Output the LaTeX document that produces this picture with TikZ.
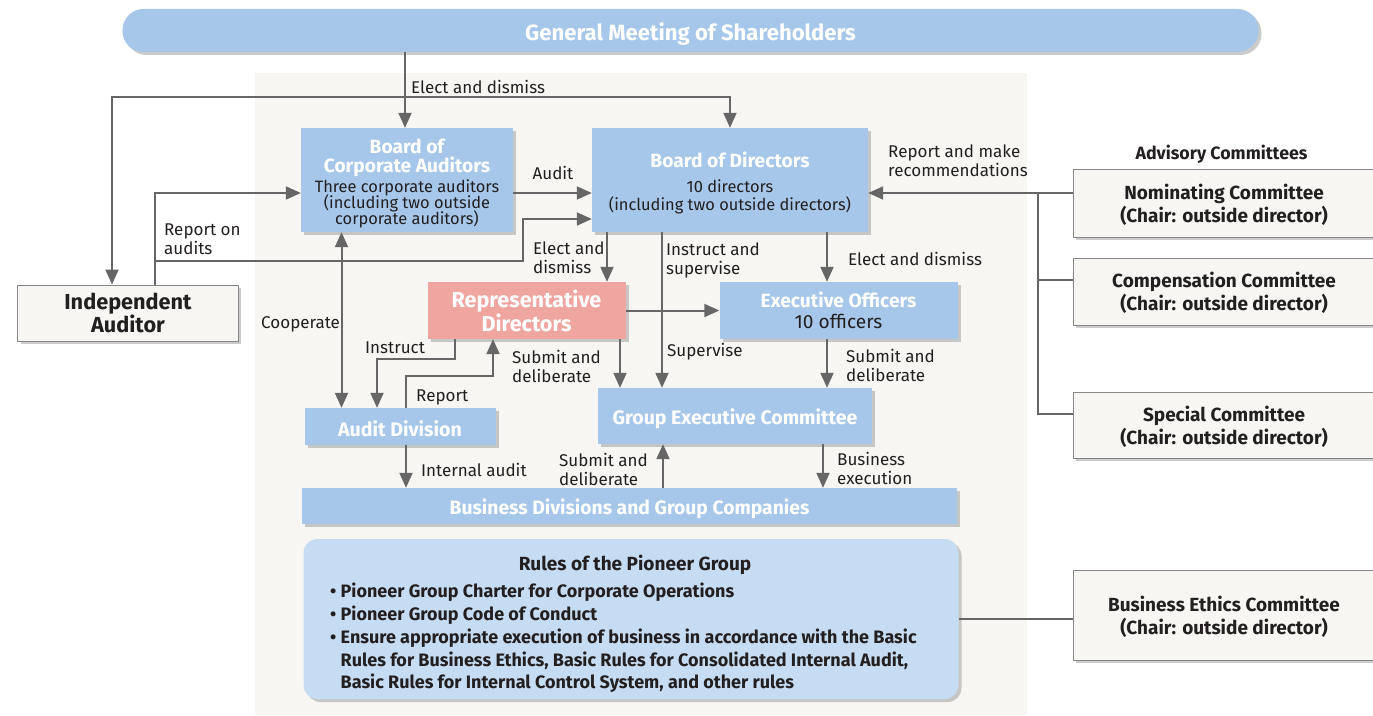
\documentclass[tikz,border=0pt]{standalone}
\usepackage{fontspec}
\setmainfont{Fira Sans}
\usetikzlibrary{arrows.meta,shadows}
\definecolor{boxblue}{RGB}{166,199,234}
\definecolor{ruleblue}{RGB}{198,220,242}
\definecolor{reppink}{RGB}{240,166,160}
\definecolor{panelgray}{RGB}{247,246,242}
\definecolor{linegray}{RGB}{102,102,102}
\definecolor{inkdark}{RGB}{35,31,32}
\definecolor{framegray}{RGB}{135,135,135}
\tikzset{
  conn/.style={draw=linegray, line width=2bp},
  arr/.style={conn, -{Triangle[width=13bp,length=15bp]}},
  arrboth/.style={conn, {Triangle[width=13bp,length=15bp]}-{Triangle[width=13bp,length=15bp]}},
  boxshadow/.style={drop shadow={shadow xshift=3bp, shadow yshift=-3bp, fill=black!45, opacity=0.45}},
  orgbox/.style={fill=boxblue, text=white, inner sep=0pt, align=center, boxshadow},
  cmtbox/.style={draw=framegray, line width=1bp, fill=panelgray, text=inkdark, inner sep=0pt, align=center, boxshadow,
    text depth=0pt, font=\bfseries\fontsize{19bp}{23bp}\selectfont},
  lbl/.style={text=inkdark, inner sep=0pt, align=left, font=\fontsize{17bp}{19bp}\selectfont},
}
\newcommand\ttl[1]{{\fontsize{19.2bp}{19bp}\selectfont\bfseries\color{white}#1}}
\newcommand\tallstrut[1]{\rule{0pt}{#1}}
\newcommand\tightlines{\lineskiplimit-40bp\relax}
\begin{document}
\begin{tikzpicture}[x=1bp, y=-1bp]
\useasboundingbox (0,0) rectangle (1373,715);
% panel behind the group
\fill[panelgray] (255,73) rectangle (1027,715);
%%
\node (gm) at (690.5,30.5) [orgbox, rounded corners=21bp, minimum width=1136bp, minimum height=43bp,
  font=\bfseries\fontsize{22.1bp}{24bp}\selectfont] {\tallstrut{24bp}General Meeting of Shareholders};
\node (bca) at (407,180) [orgbox, minimum width=212bp, minimum height=104bp, text=inkdark,
  font=\fontsize{16.4bp}{16bp}\selectfont\tightlines] {\tallstrut{21bp}\ttl{Board of}\\[3bp]\ttl{Corporate Auditors}\\[4bp]Three corporate auditors\\(including two outside\\corporate auditors)};
\node (bod) at (730,180) [orgbox, minimum width=276bp, minimum height=104bp, text=inkdark,
  font=\fontsize{16.4bp}{18bp}\selectfont\tightlines] {\tallstrut{21bp}\ttl{Board of Directors}\\[7bp]10 directors\\(including two outside directors)};
\node (rd) at (526.5,310.5) [orgbox, fill=reppink, minimum width=198bp, minimum height=57bp,
  font=\bfseries\fontsize{21.6bp}{24bp}\selectfont] {Representative\\Directors};
\node (eo) at (838.5,310.5) [orgbox, minimum width=238bp, minimum height=57bp, text=inkdark,
  font=\fontsize{19.1bp}{21bp}\selectfont] {\ttl{Executive Officers}\\10 officers};
\node (ad) at (400,426.5) [orgbox, minimum width=191bp, minimum height=37bp,
  font=\bfseries\fontsize{19.6bp}{21bp}\selectfont] {\tallstrut{20bp}Audit Division};
\node (gec) at (735,416) [orgbox, minimum width=274bp, minimum height=56bp,
  font=\bfseries\fontsize{19.5bp}{21bp}\selectfont] {\tallstrut{21bp}Group Executive Committee};
\node (bd) at (629.5,506) [orgbox, minimum width=655bp, minimum height=36bp,
  font=\bfseries\fontsize{19.3bp}{21bp}\selectfont] {\tallstrut{21bp}Business Divisions and Group Companies};
\node (rules) at (631,619) [orgbox, fill=ruleblue, rounded corners=14bp, minimum width=655bp, minimum height=160bp] {};
\node (rulestitle) at (635,565) [text=inkdark, inner sep=0pt, font=\bfseries\fontsize{19bp}{20bp}\selectfont] {Rules of the Pioneer Group};
\node (ruleslist) at (330,583) [anchor=north west, text=inkdark, inner sep=0pt, align=left,
  font=\bfseries\fontsize{18bp}{22.75bp}\selectfont] {\textbullet\ Pioneer Group Charter for Corporate Operations\\
  \textbullet\ Pioneer Group Code of Conduct\\
  \textbullet\ Ensure appropriate execution of business in accordance with the Basic\\
  \phantom{\textbullet\ }Rules for Business Ethics, Basic Rules for Consolidated Internal Audit,\\
  \phantom{\textbullet\ }Basic Rules for Internal Control System, and other rules};
\node (ia) at (128,313) [cmtbox, minimum width=220bp, minimum height=56bp,
  font=\bfseries\fontsize{21.7bp}{23bp}\selectfont] {Independent\\Auditor};
\node (advisory) at (1221.5,154) [text=inkdark, inner sep=0pt, font=\bfseries\fontsize{17.8bp}{19bp}\selectfont] {Advisory Committees};
\node (nom) at (1224,203) [cmtbox, minimum width=302bp, minimum height=68bp] {Nominating Committee\\(Chair: outside director)};
\node (cmp) at (1224,291.5) [cmtbox, minimum width=302bp, minimum height=67bp] {Compensation Committee\\(Chair: outside director)};
\node (spc) at (1224,425) [cmtbox, minimum width=302bp, minimum height=66bp] {Special Committee\\(Chair: outside director)};
\node (eth) at (1224,615) [cmtbox, minimum width=302bp, minimum height=90bp] {Business Ethics Committee\\(Chair: outside director)};
%
\coordinate (split) at (405,97);
\coordinate (iax) at (112,97);
\coordinate (rpa) at (155,193);
\coordinate (rpb) at (155,261);
\coordinate (rpc) at (523,261);
\coordinate (rpd) at (523,219);
\coordinate (coopx) at (341.5,320);
\coordinate (edx) at (607,257);
\coordinate (isx) at (662,260);
\coordinate (eox) at (827,260);
\coordinate (sdx) at (620,365);
\coordinate (ins1) at (454.5,359);
\coordinate (ins2) at (377,359);
\coordinate (rep1) at (406,376);
\coordinate (rep2) at (493,376);
\coordinate (sbx) at (663,470);
\coordinate (bex) at (823,470);
\coordinate (adv1) at (1038,193);
\coordinate (adv2) at (1038,280);
\coordinate (adv3) at (1038,414);
%
\draw[conn] (gm.south -| split) -- (split);
\draw[arr] (split) -- (bca.north -| split);
\draw[arr] (split) -- (iax) -- (ia.north -| iax);
\draw[arr] (split) -| (bod.north);
\draw[arr] (ia.north -| rpa) -- (rpa) -- (bca.west |- rpa);
\draw[arr] (rpb) -- (rpc) -- (rpd) -- (bod.west |- rpd);
\draw[arr] (bca.east |- rpa) -- (bod.west |- rpa);
\draw[arrboth] (bca.south -| coopx) -- (ad.north -| coopx);
\draw[arr] (bod.south -| edx) -- (rd.north -| edx);
\draw[arr] (bod.south -| isx) -- (gec.north -| isx);
\draw[arr] (bod.south -| eox) -- (eo.north -| eox);
\draw[arr] (rd.east) -- (eo.west);
\draw[arr] (rd.south -| sdx) -- (gec.north -| sdx);
\draw[arr] (rd.south -| ins1) -- (ins1) -- (ins2) -- (ad.north -| ins2);
\draw[arr] (ad.north -| rep1) -- (rep1) -- (rep2) -- (rd.south -| rep2);
\draw[arr] (eo.south -| eox) -- (gec.north -| eox);
\draw[arr] (bd.north -| sbx) -- (gec.south -| sbx);
\draw[arr] (gec.south -| bex) -- (bd.north -| bex);
\draw[arr] (ad.south -| rep1) -- (bd.north -| rep1);
\draw[arr] (nom.west |- adv1) -- (bod.east |- adv1);
\draw[conn] (adv1) -- (adv3) -- (spc.west |- adv3);
\draw[conn] (adv2) -- (cmp.west |- adv2);
\draw[conn] (rules.east) -- (eth.west |- rules.east);
%
\node (l1) at (411,87) [lbl, anchor=west] {Elect and dismiss};
\node (l2) at (164,239.5) [lbl, anchor=west] {Report on\\audits};
\node (l3) at (553,173) [lbl] {Audit};
\node (l4) at (888,161) [lbl, anchor=west] {Report and make\\recommendations};
\node (l5) at (533,257.5) [lbl, anchor=west] {Elect and\\dismiss};
\node (l6) at (666,260) [lbl, anchor=west] {Instruct and\\supervise};
\node (l7) at (848,259) [lbl, anchor=west] {Elect and dismiss};
\node (l8) at (261,324) [lbl, anchor=west] {Cooperate};
\node (l9) at (365,348) [lbl, anchor=west] {Instruct};
\node (l10) at (512,366) [lbl, anchor=west] {Submit and\\deliberate};
\node (l11) at (667,352) [lbl, anchor=west] {Supervise};
\node (l12) at (846,365.5) [lbl, anchor=west] {Submit and\\deliberate};
\node (l13) at (416,397) [lbl, anchor=west] {Report};
\node (l14) at (421,470) [lbl, anchor=west] {Internal audit};
\node (l15) at (559,469.5) [lbl, anchor=west] {Submit and\\deliberate};
\node (l16) at (837,468.5) [lbl, anchor=west] {Business\\execution};
%
\end{tikzpicture}
\end{document}
